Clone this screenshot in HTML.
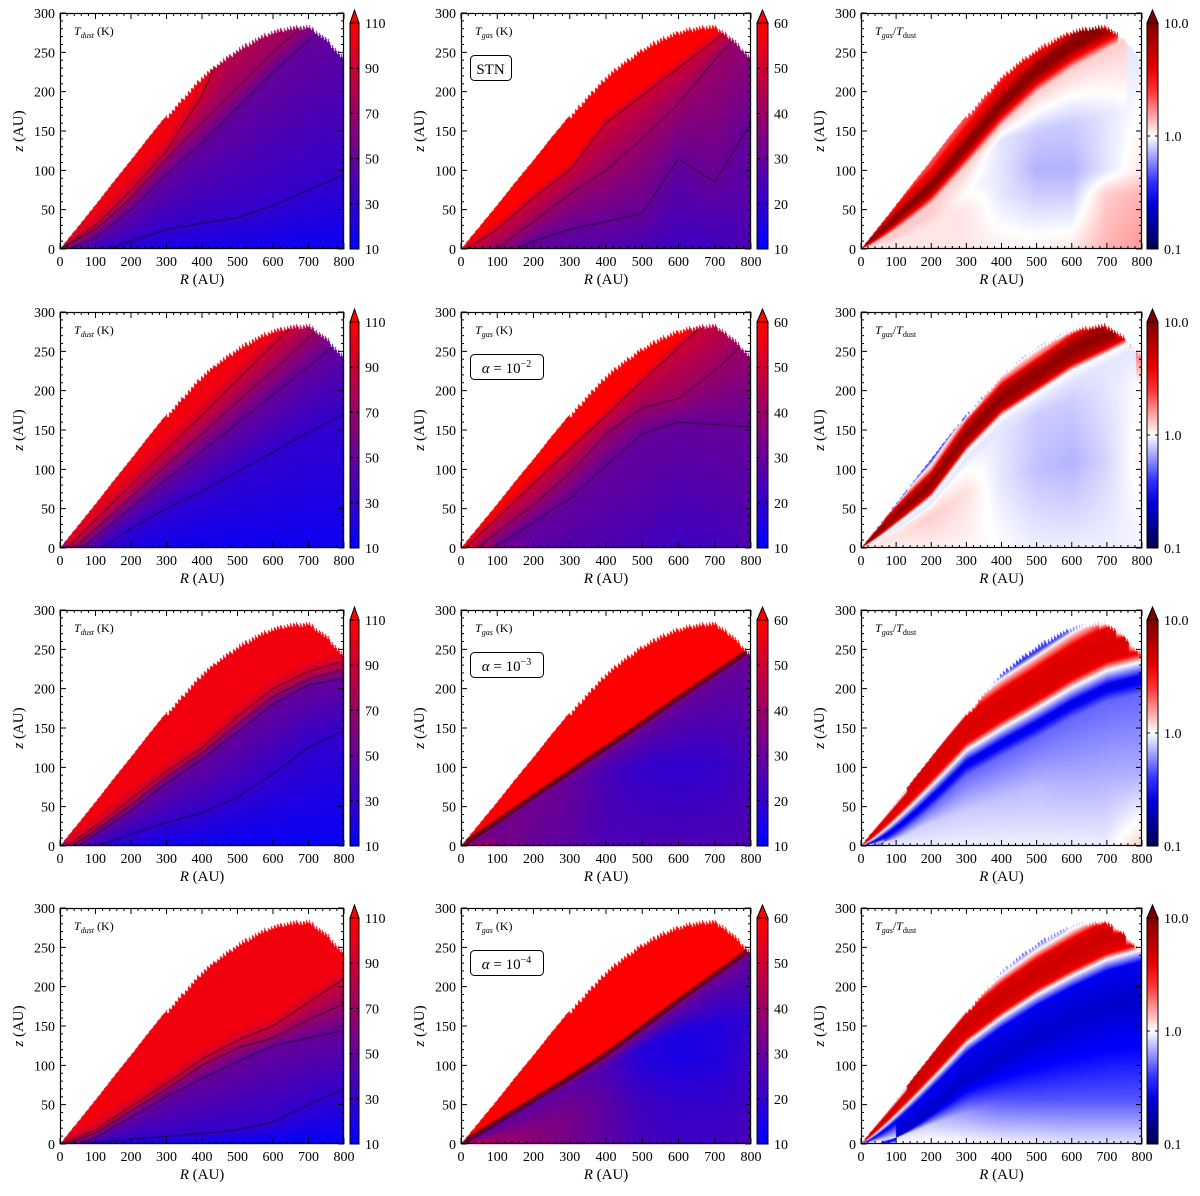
<!DOCTYPE html>
<html><head><meta charset="utf-8"><style>
html,body{margin:0;padding:0;background:#fff}
#wrap{position:relative;width:1200px;height:1196px;overflow:hidden}
canvas,svg{position:absolute;left:0;top:0}
text{font-family:"Liberation Serif",serif;fill:#000}
</style></head><body>
<div id="wrap">
<canvas id="cv" width="1200" height="1196"></canvas>
<svg id="sv" width="1200" height="1196"></svg>
</div>
<script>
// ---------- data (R grid 0..800 step 100; surface step 50) ----------
const SURF=[0,28,56,85,113,142,170,196,221,240,256,269,279,284,286,270,245];
// row1 dust
const d1_base=[60,30,22,18,17,16,16,15,15];
const d1_c30=[-20,-5,10,25,33,40,55,75,95];
const d1_c50=[-5,15,50,95,135,180,225,265,300];
const d1_c70=[0,25,65,115,160,205,250,290,330];
const d1_c90=[0,30,75,125,195,300,330,360,380];
// row2 dust
const d2_base=[60,40,20,16,15,15,15,15,15];
const d2_c30=[-60,-5,25,50,72,97,122,147,170];
const d2_c50=[-22,14,51,87,123,159,195,231,267];
const d2_c70=[-16,24,65,105,145,186,226,267,307];
const d2_c90=[-9,36,80,125,169,214,258,303,347];
// row3 dust
const d3_base=[60,30,20,15,14,13,13,13,13];
const d3_c30=[-20,0,15,30,42,62,92,125,147];
const d3_c50=[-15,15,45,80,110,145,180,205,213];
const d3_c70=[-10,20,52,88,118,155,190,212,225];
const d3_c90=[-5,25,60,95,125,165,200,222,235];
// row4 dust
const d4_base=[60,20,16,14,13,12,12,12,12];
const d4_c30=[-10,3,6,10,13,18,28,50,70];
const d4_c50=[-8,8,34,60,83,105,125,135,144];
const d4_c70=[-3,14,42,70,100,122,135,158,178];
const d4_c90=[0,18,48,77,108,132,150,180,210];
// row1 gas
const g1_base=[60,35,30,27,26,24,22,22,25];
const g1_c30=[-40,-10,10,25,35,45,115,85,160];
const g1_c40=[-20,0,35,70,100,140,185,240,290];
const g1_c50=[-5,25,65,100,160,195,230,265,300];
// row2 gas
const g2_base=[60,35,28,26,25,24,22,23,25];
const g2_c30=[-30,3,33,63,105,145,160,157,154];
const g2_c40=[-15,20,55,95,145,178,190,225,268];
const g2_c50=[-5,38,82,125,168,212,255,298,340];
// row3 gas
const g3_base=[60,35,30,28,25,25,25,25,25];
const g3_mid_z=[0,25,50,75,100,100,100,100,100];
const g3_mid_v=[50,34,32,30,24,20,19,20,24];
const g3_bundle=[0,31,63,94,125,156,188,219,250];
// row4 gas
const g4_base=[60,40,38,33,28,24,22,22,24];
const g4_l1z=[0,10,20,40,50,55,55,55,55];
const g4_l1v=[45,38,35,33,28,22,20,20,22];
const g4_l2z=[0,20,40,60,90,110,110,110,110];
const g4_l2v=[40,30,30,30,25,17,15,16,22];
const g4_l3z=[0,24,50,75,100,125,140,150,160];
const g4_l3v=[35,30,28,28,26,18,15,16,20];
const g4_bundle=[0,28,56,84,114,148,182,215,248];
// ratio panels (log10 Tgas/Tdust)
const r1_ridge=[0,40,80,132,185,228,260,285,310];
const r1_off=[-25,-12,-5,5,12,30,60];
const r1_val=[0.1,0.7,0.95,0.95,0.7,0.4,0.3];
const r1_edge=[0.3,0.3,0.3,0.3,0.3,0.3,0.3,-0.05,-0.05];
const r1_b0=[0.05,0.05,0.05,0.05,0.03,0.03,0.05,0.15,0.2];
const r1_b1z=[0,10,30,50,70,70,70,70,70];
const r1_b1v=[0.05,0.05,0.05,0.05,-0.05,-0.1,-0.1,0.1,0.15];
const r1_b2z=[0,15,45,70,100,100,100,100,100];
const r1_b2v=[0.1,0.1,0.1,0.0,-0.05,-0.15,-0.15,-0.05,0.05];
const r1_b3z=[0,18,55,90,140,150,160,170,180];
const r1_b3v=[0.1,0.1,0.1,0.05,-0.05,-0.1,-0.1,-0.05,0.0];
const r2_ridge=[0,42,82,143,190,220,250,272,295];
const r2_off=[-30,-20,-12,0,12,20,28];
const r2_val=[-0.05,0.0,0.75,0.95,0.8,0.3,0.0];
const r2_edge=[-0.5,-0.5,-0.5,-0.5,-0.5,-0.4,-0.2,0.3,0.3];
const r2_b0=[0.05,0.03,0.03,0.02,0.0,-0.03,-0.03,-0.03,-0.03];
const r2_b1z=[0,12,40,70,90,100,110,110,110];
const r2_b1v=[0.05,0.05,0.1,0.06,-0.05,-0.12,-0.15,-0.08,0.03];
const r2_b2z=[0,20,50,100,140,170,185,200,210];
const r2_b2v=[0.05,0.05,0.05,0,-0.05,-0.1,-0.1,-0.05,0.0];
const r3_ridge=[0,50,100,150,180,207,235,258,270];
const r3_off=[-60,-45,-28,-18,0,15,28,35];
const r3_val=[-0.3,-0.6,0,0.6,0.65,0.6,0.1,-0.4];
const r3_edge=[-0.4,-0.4,-0.4,-0.4,-0.4,-0.3,-0.3,-0.3,-0.3];
const r3_b0=[0,-0.03,-0.03,-0.03,-0.03,-0.03,-0.03,-0.03,0.1];
const r3_b1z=[0,8,30,45,60,75,80,85,90];
const r3_b1v=[-0.05,-0.08,-0.1,-0.1,-0.12,-0.13,-0.15,-0.15,-0.15];
const r4_ridge=[0,50,100,150,185,215,240,262,275];
const r4_off=[-70,-35,-22,-15,0,15,25,35];
const r4_val=[-0.65,-0.55,0,0.6,0.7,0.65,0.1,-0.4];
const r4_edge=[-0.4,-0.4,-0.4,-0.4,-0.4,-0.3,-0.3,-0.3,-0.3];
const r4_b0=[0,0,0.02,0,-0.02,-0.03,-0.05,-0.05,-0.05];
const r4_b1z=[0,8,25,40,50,55,55,55,55];
const r4_b1v=[-0.05,-0.05,-0.1,-0.2,-0.3,-0.33,-0.33,-0.33,-0.33];
const dustTicks=[10,30,50,70,90,110];
const gasTicks=[10,20,30,40,50,60];
const ratioTicks=[0.1,1.0,10.0];
const xTicks=[0,100,200,300,400,500,600,700,800];
const yTicks=[0,50,100,150,200,250,300];

// ---------- geometry ----------
const COLS=[{l:60,r:344,cb:350,cw:9},{l:461,r:751,cb:757,cw:11},{l:861,r:1142,cb:1147,cw:11}];
const ROWS=[13,312,610,908];
const PH=236;

function lin(a,R,step){if(typeof a==='number')return a;const f=R/step;let i=Math.floor(f);if(i<0)return a[0];if(i>=a.length-1)return a[a.length-1];const t=f-i;return a[i]*(1-t)+a[i+1]*t;}
const L=(z,v)=>({zf:R=>lin(z,R,100),v:v});
const Lo=(z,o,v)=>({zf:R=>lin(z,R,100)+o,v:v});
const SL=(d,v)=>({zf:R=>lin(SURF,R,50)-d,v:v});
function ridgeLayers(ridge,off,val){return off.map((o,k)=>({zf:R=>lin(ridge,R,100)+o*1.5*R/(R+150),v:val[k]}));}

const panels=[
 {c:0,r:0,k:'t',min:10,max:110,lines:[d1_c30,d1_c50,d1_c70,d1_c90],layers:[L(0,d1_base),L(d1_c30,30),L(d1_c50,50),L(d1_c70,70),L(d1_c90,90),Lo(d1_c90,20,105)]},
 {c:0,r:1,k:'t',min:10,max:110,lines:[d2_c30,d2_c50,d2_c70,d2_c90],layers:[L(0,d2_base),L(d2_c30,30),L(d2_c50,50),L(d2_c70,70),L(d2_c90,90),Lo(d2_c90,20,105)]},
 {c:0,r:2,k:'t',min:10,max:110,lines:[d3_c30,d3_c50,d3_c70,d3_c90],layers:[L(0,d3_base),L(d3_c30,30),L(d3_c50,50),L(d3_c70,70),L(d3_c90,90),Lo(d3_c90,15,105)]},
 {c:0,r:3,k:'t',min:10,max:110,lines:[d4_c30,d4_c50,d4_c70,d4_c90],layers:[L(0,d4_base),L(d4_c30,30),L(d4_c50,50),L(d4_c70,70),L(d4_c90,90),Lo(d4_c90,15,105)]},
 {c:1,r:0,k:'t',min:10,max:60,lines:[g1_c30,g1_c40,g1_c50],layers:[L(0,g1_base),L(g1_c30,30),L(g1_c40,40),L(g1_c50,50),Lo(g1_c50,15,62)]},
 {c:1,r:1,k:'t',min:10,max:60,lines:[g2_c30,g2_c40,g2_c50],layers:[L(0,g2_base),L(g2_c30,30),L(g2_c40,40),L(g2_c50,50),Lo(g2_c50,15,62)]},
 {c:1,r:2,k:'t',min:10,max:60,lines:[g3_bundle.map(v=>v-3),g3_bundle.map(v=>v-1),g3_bundle.map(v=>v+1),g3_bundle.map(v=>v+3)],layers:[L(0,g3_base),L(g3_mid_z,g3_mid_v),Lo(g3_bundle,-8,30),Lo(g3_bundle,0,45),Lo(g3_bundle,5,58),Lo(g3_bundle,12,62)]},
 {c:1,r:3,k:'t',min:10,max:60,lines:[g4_bundle.map(v=>v-3),g4_bundle.map(v=>v-1),g4_bundle.map(v=>v+1),g4_bundle.map(v=>v+3)],layers:[L(0,g4_base),L(g4_l1z,g4_l1v),L(g4_l2z,g4_l2v),L(g4_l3z,g4_l3v),Lo(g4_bundle,-8,30),Lo(g4_bundle,0,45),Lo(g4_bundle,5,58),Lo(g4_bundle,12,62)]},
 {c:2,r:0,k:'r',lines:[],layers:[L(0,r1_b0),L(r1_b1z,r1_b1v),L(r1_b2z,r1_b2v),L(r1_b3z,r1_b3v),SL(-2,r1_edge)].concat(ridgeLayers(r1_ridge,r1_off,r1_val))},
 {c:2,r:1,k:'r',lines:[],layers:[L(0,r2_b0),L(r2_b1z,r2_b1v),L(r2_b2z,r2_b2v),SL(0,r2_edge)].concat(ridgeLayers(r2_ridge,r2_off,r2_val))},
 {c:2,r:2,k:'r',lines:[],layers:[L(0,r3_b0),L(r3_b1z,r3_b1v),SL(-2,r3_edge)].concat(ridgeLayers(r3_ridge,r3_off,r3_val))},
 {c:2,r:3,k:'r',lines:[],layers:[L(0,r4_b0),L(r4_b1z,r4_b1v),SL(-2,r4_edge)].concat(ridgeLayers(r4_ridge,r4_off,r4_val))}
];

function tempCol(t){t=Math.max(0,Math.min(1,t));return [255*t,0,255*(1-t)];}
const SEIS=[[0,0,0,77],[0.25,0,0,255],[0.5,255,255,255],[0.75,255,0,0],[1,128,0,0]];
function seis(t){t=Math.max(0,Math.min(1,t));for(let i=0;i<4;i++){const a=SEIS[i],b=SEIS[i+1];if(t<=b[0]){const u=(t-a[0])/(b[0]-a[0]);return [a[1]+(b[1]-a[1])*u,a[2]+(b[2]-a[2])*u,a[3]+(b[3]-a[3])*u];}}return [128,0,0];}
function surfAt(R){let s=lin(SURF,R,50);if(R>300)s-=7*((R%9)/9);return s;}

const cv=document.getElementById('cv');const ctx=cv.getContext('2d');
const img=ctx.createImageData(1200,1196);const D=img.data;
panels.forEach(p=>{
 const C=COLS[p.c],x0=C.l,W=C.r-C.l,y0=ROWS[p.r];
 for(let px=0;px<W;px++){
  const R=(px+0.5)/W*800,s=surfAt(R);
  const ls=p.layers.map(l=>({z:l.zf(R),v:lin(l.v,R,100)})).sort((a,b)=>a.z-b.z);
  for(let py=0;py<PH;py++){
   const z=(PH-py-0.5)/PH*300; if(z>s||z<0)continue;
   let v;
   if(z<=ls[0].z)v=ls[0].v;else if(z>=ls[ls.length-1].z)v=ls[ls.length-1].v;
   else{for(let k=0;k<ls.length-1;k++){if(z<=ls[k+1].z){const a=ls[k],b=ls[k+1];const u=(b.z-a.z)<1e-6?1:(z-a.z)/(b.z-a.z);v=a.v+(b.v-a.v)*u;break;}}}
   const col=p.k==='t'?tempCol((v-p.min)/(p.max-p.min)):seis((v+1)/2);
   const i=((y0+py)*1200+x0+px)*4;D[i]=col[0];D[i+1]=col[1];D[i+2]=col[2];D[i+3]=255;
  }
 }
});
ctx.putImageData(img,0,0);
// contour lines clipped to disk
panels.forEach(p=>{
 if(!p.lines.length)return;
 const C=COLS[p.c],x0=C.l,W=C.r-C.l,y0=ROWS[p.r];
 ctx.save();ctx.beginPath();ctx.moveTo(x0,y0+PH);
 for(let px=0;px<=W;px++){const R=px/W*800;ctx.lineTo(x0+px,y0+PH-surfAt(R)/300*PH);}
 ctx.lineTo(x0+W,y0+PH);ctx.closePath();ctx.clip();
 ctx.strokeStyle='rgba(0,0,0,0.85)';ctx.lineWidth=0.8;
 p.lines.forEach(a=>{ctx.beginPath();for(let px=0;px<=W;px++){const R=px/W*800;const yy=y0+PH-lin(a,R,100)/300*PH;px?ctx.lineTo(x0+px,yy):ctx.moveTo(x0+px,yy);}ctx.stroke();});
 ctx.restore();
});

// ---------- SVG axes ----------
const NS='http://www.w3.org/2000/svg',sv=document.getElementById('sv');
function el(tag,attrs,parent){const e=document.createElementNS(NS,tag);for(const k in attrs)e.setAttribute(k,attrs[k]);(parent||sv).appendChild(e);return e;}
const boxExp=['','−2','−3','−4'];
panels.forEach(p=>{
 const C=COLS[p.c],x0=C.l,x1=C.r,W=x1-x0,y0=ROWS[p.r],y1=y0+PH;
 const g=el('g',{});
 
 
 const fr=el('rect',{x:x0+0.5,y:y0+0.5,width:W-1,height:PH-1,fill:'none',stroke:'#000','stroke-width':1.2},g);
 
 
 let d='';
 for(let R=0;R<=800;R+=20){const x=x0+R/800*W;const L2=R%100===0?6:3;d+=`M${x},${y1}v${-L2}M${x},${y0}v${L2}`;}
 for(let Z=0;Z<=300;Z+=10){const y=y1-Z/300*PH;const L2=Z%50===0?6:3;d+=`M${x0},${y}h${L2}M${x1},${y}h${-L2}`;}
 const tk=el('path',{d:d,stroke:'#000','stroke-width':1,fill:'none'},g);
 
 
 xTicks.forEach(R=>{const t=el('text',{x:x0+R/800*W,y:y1+17,'font-size':14,'text-anchor':'middle'},g);t.textContent=R;
  
  });
 yTicks.forEach(Z=>{const t=el('text',{x:x0-5,y:y1-Z/300*PH+5,'font-size':14,'text-anchor':'end'},g);t.textContent=Z;
  
  });
 const xl=el('text',{x:(x0+x1)/2,y:y1+35,'font-size':15,'text-anchor':'middle'},g);
 xl.innerHTML='<tspan font-style="italic">R</tspan> (AU)';
 
 
 const yl=el('text',{x:0,y:0,'font-size':15,'text-anchor':'middle',transform:`translate(${x0-37},${(y0+y1)/2}) rotate(-90)`},g);
 yl.innerHTML='<tspan font-style="italic">z</tspan> (AU)';
 
 
 const pl=el('text',{x:x0+14,y:y0+22,'font-size':12},g);
 if(p.k==='t'){pl.innerHTML='<tspan font-style="italic">T</tspan><tspan font-size="8" dy="3" font-style="italic">'+(p.c===0?'dust':'gas')+'</tspan><tspan dy="-3"> (K)</tspan>';}
 else{pl.innerHTML='<tspan font-style="italic">T</tspan><tspan font-size="8" dy="3" font-style="italic">gas</tspan><tspan dy="-3">/</tspan><tspan font-style="italic">T</tspan><tspan font-size="8" dy="3">dust</tspan>';}
 
 
 if(p.c===1){
  const bw=p.r===0?41:73;
  const bx=el('rect',{x:x0+9.5,y:y0+42.5,width:bw,height:25,rx:4,fill:'#fff',stroke:'#000','stroke-width':1},g);
  
  
  const bt=el('text',{x:x0+9+bw/2,y:y0+61,'font-size':15,'text-anchor':'middle'},g);
  bt.innerHTML=p.r===0?'STN':'<tspan font-style="italic">α</tspan> = 10<tspan font-size="10" dy="-6">'+boxExp[p.r]+'</tspan>';
  
  
 }
 // colorbar
 const cbx=C.cb,cw=C.cw,cbT=y0+10,cbB=y1;
 const gid='gr'+p.r+p.c;
 const defs=el('defs',{},g);const lg=el('linearGradient',{id:gid,x1:0,y1:1,x2:0,y2:0},defs);
 for(let i=0;i<=10;i++){const t=i/10;const c=p.k==='t'?tempCol(t):seis(t);el('stop',{offset:t,'stop-color':`rgb(${c.map(Math.round).join(',')})`},lg);}
 const top=p.k==='t'?'#ff0000':'#800000';
 const cbg=el('g',{},g);
 
 
 el('path',{d:`M${cbx},${cbT}L${cbx+cw/2},${y0-3}L${cbx+cw},${cbT}Z`,fill:top,stroke:'#000','stroke-width':1},cbg);
 el('rect',{x:cbx,y:cbT,width:cw,height:cbB-cbT,fill:`url(#${gid})`,stroke:'#000','stroke-width':1},cbg);
 const ticks=p.k==='t'?(p.c===0?dustTicks:gasTicks):ratioTicks;
 ticks.forEach(tv=>{
  let f=p.k==='t'?(tv-ticks[0])/(ticks[ticks.length-1]-ticks[0]):(Math.log10(tv)+1)/2;
  const y=cbB-f*(cbB-cbT);
  el('path',{d:`M${cbx},${y}h3M${cbx+cw},${y}h-3`,stroke:'#000','stroke-width':1},cbg);
  const t=el('text',{x:cbx+cw+6,y:y+5,'font-size':14},cbg);
  t.textContent=p.k==='t'?tv:tv.toFixed(1);
  
  
 });
});
</script>
</body></html>
